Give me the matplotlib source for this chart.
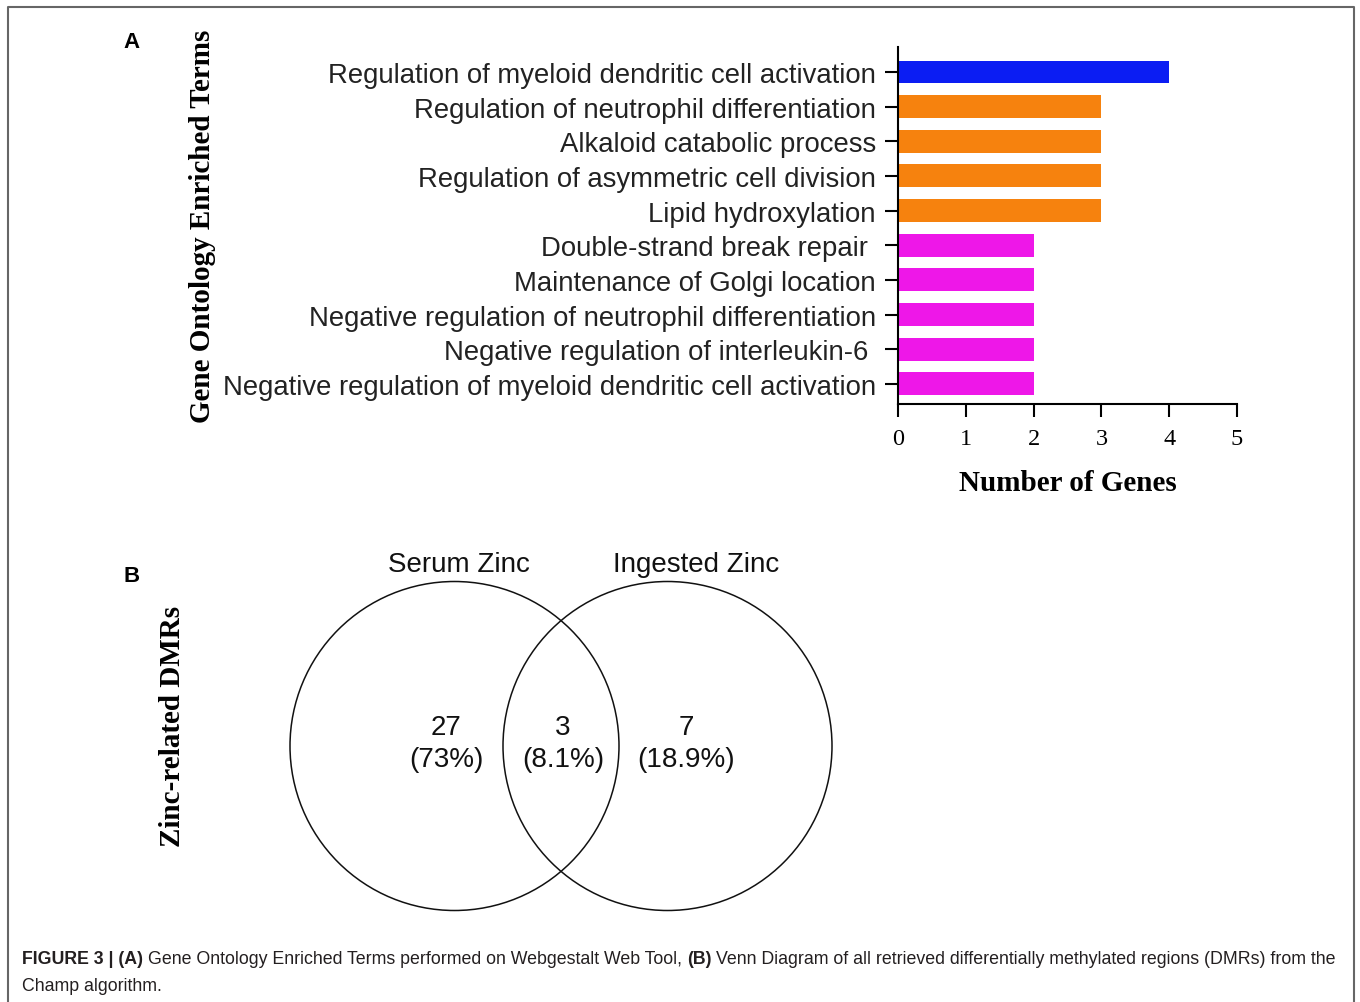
import matplotlib
matplotlib.use("Agg")
import matplotlib.pyplot as plt
from matplotlib.patches import Circle
from matplotlib.lines import Line2D

# ===================== ##
# Data                   ##
# ===================== ##
go_terms = [
    "Regulation of myeloid dendritic cell activation",
    "Regulation of neutrophil differentiation",
    "Alkaloid catabolic process",
    "Regulation of asymmetric cell division",
    "Lipid hydroxylation",
    "Double-strand break repair ",
    "Maintenance of Golgi location",
    "Negative regulation of neutrophil differentiation",
    "Negative regulation of interleukin-6 ",
    "Negative regulation of myeloid dendritic cell activation",
]
gene_counts = [4, 3, 3, 3, 3, 2, 2, 2, 2, 2]
bar_colors = ["#0b1df3"] + ["#f6820e"] * 4 + ["#ee17e8"] * 5
x_ticks = [0, 1, 2, 3, 4, 5]

venn_sets = ["Serum Zinc", "Ingested Zinc"]
venn_counts = [27, 3, 7]
venn_pcts = ["73%", "8.1%", "18.9%"]

caption_line1 = [
    ("FIGURE 3 | (A)", "bold"),
    ("Gene Ontology Enriched Terms performed on Webgestalt Web Tool,", "normal"),
    ("(B)", "bold"),
    ("Venn Diagram of all retrieved differentially methylated regions (DMRs) from the", "normal"),
]
caption_line2 = "Champ algorithm."

# ===================== ##
# Layout helpers         ##
# ===================== ##
W, H = 1360, 1003
SANS = ["Liberation Sans", "DejaVu Sans"]
SERIF = ["Liberation Serif", "DejaVu Serif"]


def px_rect(x0, y0, x1, y1):
    return [x0 / W, 1 - y1 / H, (x1 - x0) / W, (y1 - y0) / H]


fig = plt.figure(figsize=(W / 100, H / 100), dpi=100)

# overlay in pixel coordinates for the venn, captions, labels and frame
ov = fig.add_axes([0, 0, 1, 1])
ov.set_xlim(0, W)
ov.set_ylim(H, 0)
ov.set_facecolor("none")
ov.axis("off")

# ===================== ##
# Panel A: bar chart     ##
# ===================== ##
ax = fig.add_axes(px_rect(898, 48, 1237, 405))
ypos = list(range(len(go_terms)))
ax.barh(ypos, gene_counts, height=0.66, color=bar_colors)
ax.set_ylim(len(go_terms) - 1 + 0.58, -0.72)
ax.set_xlim(0, 5)
ax.set_xticks(x_ticks)
ax.set_xticklabels([str(t) for t in x_ticks], fontfamily=SERIF, fontsize=17.5)
ax.set_yticks(ypos)
ax.set_yticklabels(go_terms, fontfamily=SANS, fontsize=19.8, color="#222222", va="center_baseline")
ax.tick_params(axis="y", length=9.5, width=1.5, pad=6.5)
ax.tick_params(axis="x", length=9.5, width=1.5, pad=7.5)
for s in ["top", "right"]:
    ax.spines[s].set_visible(False)
for s in ["left", "bottom"]:
    ax.spines[s].set_linewidth(1.5)
ax.set_xlabel("Number of Genes", fontfamily=SERIF, fontweight="bold", fontsize=21)
ax.xaxis.set_label_coords(0.501, -0.183)
ax.set_ylabel("Gene Ontology Enriched Terms", fontfamily=SERIF, fontweight="bold",
              fontsize=21, va="center")
ax.yaxis.set_label_coords(-2.051, 0.501)

ov.text(132, 42, "A", fontfamily=SANS, fontweight="bold", fontsize=16, ha="center", va="center")

# ===================== ##
# Panel B: venn diagram  ##
# ===================== ##
ov.text(132, 577, "B", fontfamily=SANS, fontweight="bold", fontsize=16, ha="center", va="center")
ov.text(173, 726, "Zinc-related DMRs", fontfamily=SERIF, fontweight="bold", fontsize=21,
        rotation=90, ha="center", va="center")

circle_centers = [(454.5, 747), (667.5, 747)]
radius = 164.5
for (cx, cy), name, lx in zip(circle_centers, venn_sets, [459, 696]):
    ov.add_patch(Circle((cx, cy), radius, fill=False, lw=1.1, edgecolor="#111111"))
    ov.text(lx, 562, name, fontfamily=SANS, fontsize=20, ha="center", va="center_baseline",
            color="#111111")

region_x = [446, 563, 686]
for rx, n, p in zip(region_x, venn_counts, venn_pcts):
    ov.text(rx, 725, str(n), fontfamily=SANS, fontsize=20, ha="center", va="center_baseline",
            color="#111111")
    ov.text(rx, 757, f"({p})", fontfamily=SANS, fontsize=20, ha="center", va="center_baseline",
            color="#111111")

# ===================== ##
# Frame and caption      ##
# ===================== ##
ov.add_line(Line2D([8, 8, 1354, 1354], [H, 8, 8, H], color="#666666", lw=1.5))

renderer = fig.canvas.get_renderer()
cap_size = 12.8
space_w = 0.278 * cap_size * 100 / 72
x = 22
for txt, weight in caption_line1:
    t = ov.text(x, 964, txt, fontfamily=SANS, fontweight=weight, fontsize=cap_size,
                color="#231f20", ha="left", va="baseline")
    x += t.get_window_extent(renderer).width + space_w
ov.text(22, 991, caption_line2, fontfamily=SANS, fontsize=cap_size, color="#231f20",
        ha="left", va="baseline")

fig.savefig("out.png", dpi=100)
